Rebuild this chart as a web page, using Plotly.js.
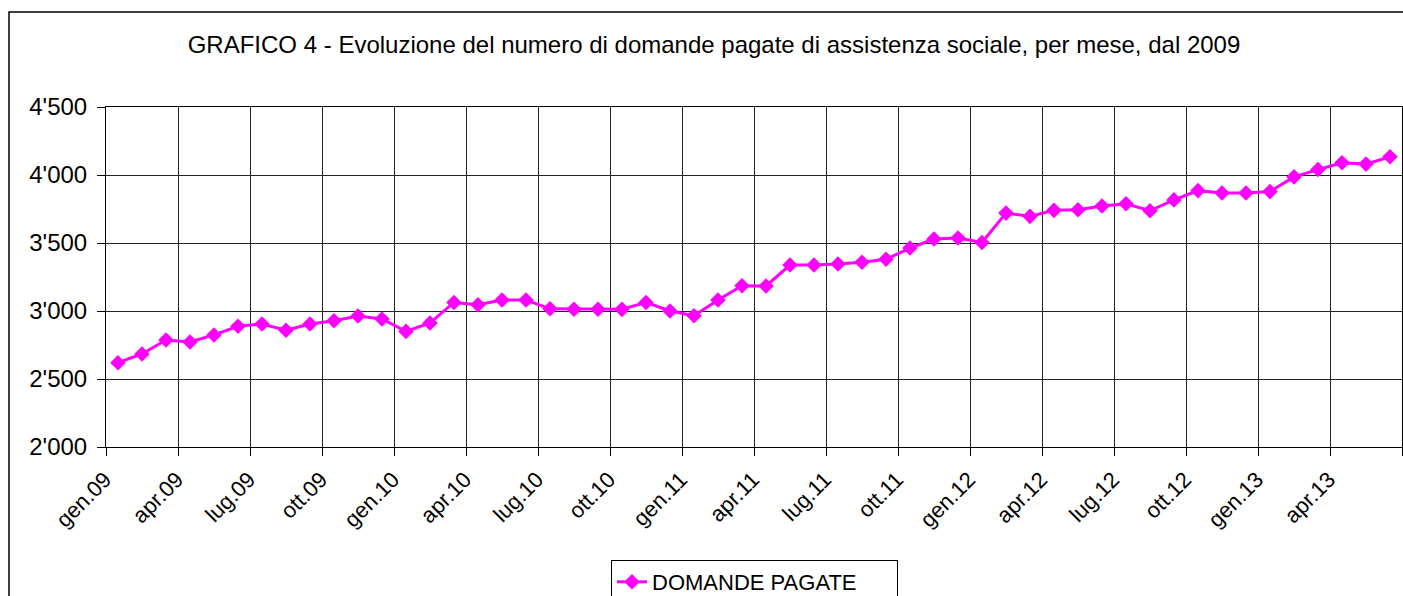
<!DOCTYPE html>
<html>
<head>
<meta charset="utf-8">
<script src="https://cdn.plot.ly/plotly-3.0.1.min.js"></script>
<style>
html,body{margin:0;padding:0;background:#fff;}
#chart{width:1403px;height:596px;}
</style>
</head>
<body>
<div id="chart"></div>
<script>
// Months (gen.09 .. giu.13)
const months = [
  "gen.09","feb.09","mar.09","apr.09","mag.09","giu.09","lug.09","ago.09","set.09","ott.09","nov.09","dic.09",
  "gen.10","feb.10","mar.10","apr.10","mag.10","giu.10","lug.10","ago.10","set.10","ott.10","nov.10","dic.10",
  "gen.11","feb.11","mar.11","apr.11","mag.11","giu.11","lug.11","ago.11","set.11","ott.11","nov.11","dic.11",
  "gen.12","feb.12","mar.12","apr.12","mag.12","giu.12","lug.12","ago.12","set.12","ott.12","nov.12","dic.12",
  "gen.13","feb.13","mar.13","apr.13","mag.13","giu.13"
];
// DOMANDE PAGATE
const domandePagate = [
  2620, 2684, 2787, 2772, 2824, 2888, 2904, 2858, 2904, 2928, 2963, 2941,
  2850, 2912, 3063, 3046, 3081, 3081, 3016, 3013, 3013, 3012, 3063, 3000,
  2965, 3081, 3186, 3184, 3338, 3338, 3346, 3358, 3380, 3463, 3529, 3537,
  3504, 3720, 3696, 3740, 3745, 3772, 3789, 3737, 3817, 3885, 3868, 3868,
  3878, 3986, 4040, 4090, 4080, 4134
];
// Tick labels shown every three months
const tickLabels = ["gen.09","apr.09","lug.09","ott.09","gen.10","apr.10","lug.10","ott.10",
  "gen.11","apr.11","lug.11","ott.11","gen.12","apr.12","lug.12","ott.12","gen.13","apr.13"];
const seriesName = "DOMANDE PAGATE";
const chartTitle = "GRAFICO 4 - Evoluzione del numero di domande pagate di assistenza sociale, per mese, dal 2009";

const xIdx = months.map((m, i) => i);
const tickVals = tickLabels.map(t => months.indexOf(t));

const FONT = "Liberation Sans, Arial, sans-serif";

const trace = {
  x: xIdx,
  y: domandePagate,
  text: months,
  name: seriesName,
  type: "scatter",
  mode: "lines+markers",
  line: {color: "#FF00FF", width: 3},
  marker: {symbol: "diamond", size: 12, color: "#FF00FF"},
  showlegend: true
};

const W = 1403, H = 596;
const mL = 106, mR = 1, mT = 107, mB = 149;
const pw = W - mL - mR, ph = H - mT - mB;

const layout = {
  width: W, height: H,
  margin: {l: mL, r: mR, t: mT, b: mB, pad: 0, autoexpand: false},
  paper_bgcolor: "#fff",
  plot_bgcolor: "#fff",
  separators: ".'",
  font: {family: FONT, color: "#000", size: 24},
  title: {
    text: chartTitle,
    font: {family: FONT, size: 24, color: "#000"},
    xref: "container", yref: "container",
    x: 714 / W, xanchor: "center",
    y: 1 - 45 / H, yanchor: "middle"
  },
  xaxis: {
    range: [-0.5, months.length - 0.5],
    tickmode: "array",
    tickvals: tickVals,
    ticktext: tickLabels,
    tickangle: -45,
    ticks: "",
    ticklabelstandoff: 10,
    ticklabelshift: -13,
    showgrid: false,
    zeroline: false,
    showline: true, linecolor: "#000", linewidth: 1, mirror: true,
    tickfont: {family: FONT, size: 22, color: "#000"},
    minor: {
      tickmode: "linear", tick0: -0.5, dtick: 3,
      ticks: "outside", ticklen: 8, tickcolor: "#000", tickwidth: 1,
      showgrid: true, gridcolor: "#222", gridwidth: 1
    },
    fixedrange: true
  },
  yaxis: {
    range: [2000, 4500],
    tickmode: "linear", tick0: 2000, dtick: 500,
    tickformat: ",d",
    ticks: "outside", ticklen: 8, tickcolor: "#000",
    ticklabelstandoff: 5,
    showgrid: true, gridcolor: "#222", gridwidth: 1,
    zeroline: false,
    showline: true, linecolor: "#000", linewidth: 1, mirror: true,
    tickfont: {family: FONT, size: 24, color: "#000"},
    fixedrange: true
  },
  legend: {
    x: (611 - mL) / pw, xanchor: "left",
    y: (mT + ph - 560) / ph, yanchor: "top",
    orientation: "h",
    entrywidth: 240,
    bordercolor: "#000", borderwidth: 1,
    bgcolor: "#fff",
    font: {family: FONT, size: 22, color: "#000"}
  },
  shapes: [{
    type: "rect", xref: "paper", yref: "paper",
    x0: (9 - mL) / pw, x1: 1.2,
    y0: -1, y1: (mT + ph - 12) / ph,
    line: {color: "#000", width: 1.5},
    fillcolor: "rgba(0,0,0,0)",
    layer: "below"
  }]
};

Plotly.newPlot("chart", [trace], layout, {displayModeBar: false, staticPlot: true});
</script>
</body>
</html>
